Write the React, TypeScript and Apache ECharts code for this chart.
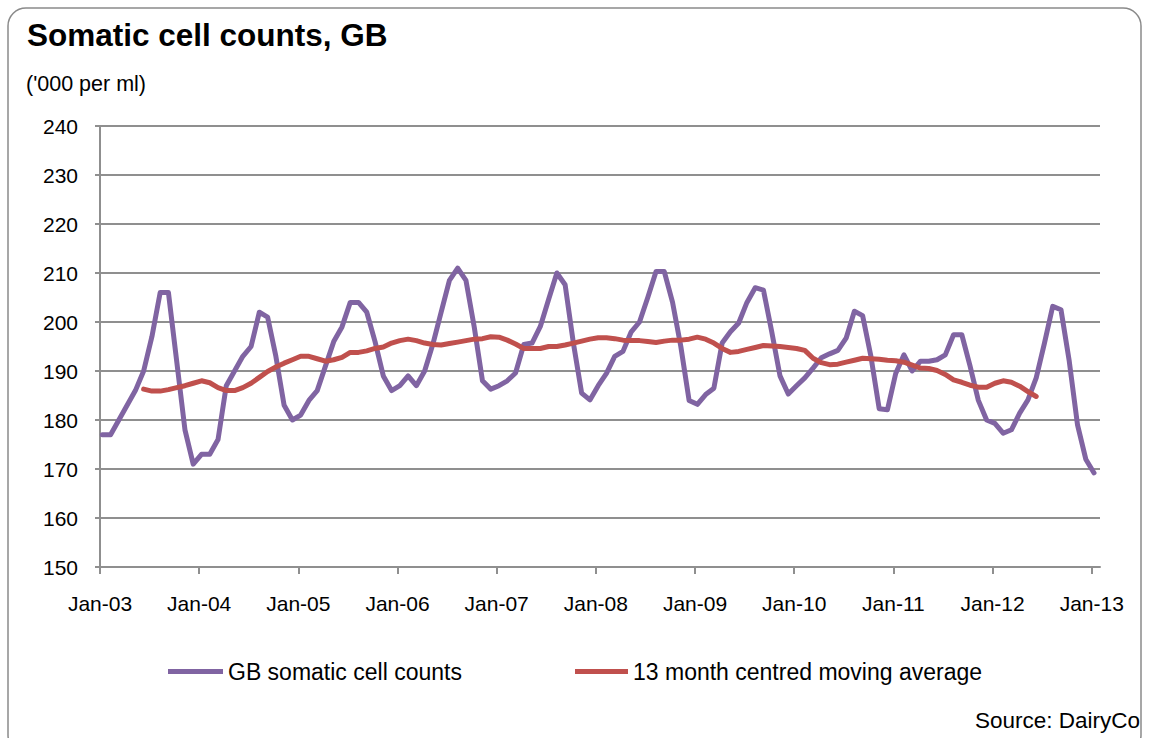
import React, { useEffect, useRef } from 'react';
import * as echarts from 'echarts';

// X tick labels (one per January)
const tickLabels = ['Jan-03', 'Jan-04', 'Jan-05', 'Jan-06', 'Jan-07', 'Jan-08', 'Jan-09', 'Jan-10', 'Jan-11', 'Jan-12', 'Jan-13'];

// GB somatic cell counts ('000 per ml), monthly Jan-03 .. Jan-13
const counts2003 = [177, 177, 180, 183, 186, 190, 197, 206, 206, 192, 178, 171];
const counts2004 = [173, 173, 176, 187, 190, 193, 195, 202, 201, 193, 183, 180];
const counts2005 = [181, 184, 186, 191, 196, 199, 204, 204, 202, 196, 189, 186];
const counts2006 = [187, 189, 187, 190, 195.5, 202, 208.5, 211, 208.5, 199, 188, 186.3];
const counts2007 = [187, 188, 189.6, 195.4, 195.7, 199.1, 204.6, 210, 207.6, 195.7, 185.5, 184.1];
const counts2008 = [187, 189.5, 193, 194, 198, 200, 205, 210.3, 210.3, 204, 195, 184];
const counts2009 = [183.2, 185.2, 186.5, 195.7, 198, 199.8, 204, 207, 206.5, 198, 189, 185.3];
const counts2010 = [187, 188.6, 190.6, 192.7, 193.5, 194.2, 196.7, 202.2, 201.3, 193, 182.3, 182.1];
const counts2011 = [189.5, 193.3, 190, 192, 192, 192.3, 193.3, 197.4, 197.4, 191, 184, 180];
const counts2012 = [179.3, 177.3, 178, 181.4, 184.1, 188.6, 195.7, 203.2, 202.5, 192, 179, 172];
const counts2013 = [169.2];

const cellCounts = [
  ...counts2003, ...counts2004, ...counts2005, ...counts2006, ...counts2007, ...counts2008,
  ...counts2009, ...counts2010, ...counts2011, ...counts2012, ...counts2013,
];

// 13 month centred moving average, starting at month index 5 (Jun-03)
const maStartIndex = 5;
const movingAverage = [
  186.3, 185.9, 185.9, 186.2, 186.6, 187, 187.5,
  188, 187.6, 186.6, 186, 186, 186.6, 187.5, 188.7, 189.9, 190.8, 191.6, 192.3,
  193, 193, 192.5, 192, 192.3, 192.8, 193.8, 193.8, 194.1, 194.6, 194.9, 195.7,
  196.2, 196.5, 196.2, 195.7, 195.4, 195.3, 195.6, 195.9, 196.2, 196.5, 196.6, 197,
  196.9, 196.3, 195.5, 194.6, 194.6, 194.6, 195, 195, 195.3, 195.7, 196.1, 196.5,
  196.8, 196.8, 196.6, 196.3, 196.2, 196.2, 196, 195.8, 196.1, 196.3, 196.3, 196.5,
  196.9, 196.5, 195.7, 194.6, 193.8, 194, 194.4, 194.8, 195.2, 195.1, 195, 194.8,
  194.6, 194.2, 192.6, 191.7, 191.3, 191.4, 191.8, 192.2, 192.6, 192.5, 192.4, 192.2,
  192.1, 191.8, 191.2, 190.6, 190.5, 190.1, 189.3, 188.2, 187.7, 187.1, 186.7, 186.7,
  187.5, 188, 187.7, 186.9, 185.8, 184.8,
];

const seriesNames = ['GB somatic cell counts', '13 month centred moving average'];
const yTicks = { min: 150, max: 240, step: 10 };

export default function App() {
  const ref = useRef<HTMLDivElement>(null);

  useEffect(() => {
    if (!ref.current) return;
    const chart = echarts.init(ref.current, null, { renderer: 'svg' });
    const font = "'Liberation Sans', Arial, sans-serif";
    const gray = '#8f8f8f';
    const monthOffset = 0.28;
    const tickValues = tickLabels.map((_, k) => k * 12);
    const countData = cellCounts.map((v, i) => [i + monthOffset, v]);
    const maData = movingAverage.map((v, i) => [i + maStartIndex + monthOffset, v]);
    const legendText = { fontSize: 23, fontFamily: font, color: '#000' };

    chart.setOption({
      animation: false,
      backgroundColor: '#ffffff',
      grid: { left: 100, right: 53, top: 126, bottom: 171, containLabel: false },
      xAxis: {
        type: 'value',
        min: 0,
        max: 121,
        axisLine: { show: true, onZero: false, lineStyle: { color: gray, width: 2 } },
        axisTick: { show: true, customValues: tickValues, length: 7, lineStyle: { color: gray, width: 2 } },
        axisLabel: {
          customValues: tickValues,
          formatter: (v: number) => tickLabels[Math.round(v / 12)] ?? '',
          margin: 26,
          fontSize: 21,
          fontFamily: font,
          color: '#000',
        },
        splitLine: { show: false },
      },
      yAxis: {
        type: 'value',
        min: yTicks.min,
        max: yTicks.max,
        interval: yTicks.step,
        axisLine: { show: true, lineStyle: { color: gray, width: 2 } },
        axisTick: { show: true, length: 5, lineStyle: { color: gray, width: 2 } },
        axisLabel: { margin: 22, fontSize: 21, fontFamily: font, color: '#000' },
        splitLine: { show: true, lineStyle: { color: gray, width: 2 } },
      },
      legend: [
        {
          data: [seriesNames[0]],
          left: 163,
          top: 655,
          icon: 'rect',
          itemWidth: 55,
          itemHeight: 5,
          textStyle: legendText,
        },
        {
          data: [seriesNames[1]],
          left: 570,
          top: 655,
          icon: 'rect',
          itemWidth: 53,
          itemHeight: 5,
          textStyle: legendText,
        },
      ],
      graphic: [
        {
          type: 'rect',
          shape: { x: 8, y: 8, width: 1133, height: 745, r: 18 },
          style: { fill: 'none', stroke: '#8a8a8a', lineWidth: 1.5 },
          silent: true,
        },
        {
          type: 'text',
          x: 27,
          y: 35,
          style: { text: 'Somatic cell counts, GB', font: `bold 31.5px ${font}`, fill: '#000', verticalAlign: 'middle' },
        },
        {
          type: 'text',
          x: 26,
          y: 84,
          style: { text: "('000 per ml)", font: `21.5px ${font}`, fill: '#000', verticalAlign: 'middle' },
        },
        {
          type: 'text',
          x: 1140,
          y: 720,
          style: { text: 'Source: DairyCo', font: `22.5px ${font}`, fill: '#000', align: 'right', verticalAlign: 'middle' },
        },
      ],
      series: [
        {
          name: seriesNames[0],
          type: 'line',
          data: countData,
          showSymbol: false,
          symbol: 'none',
          color: '#8064A2',
          lineStyle: { color: '#8064A2', width: 5, join: 'round', cap: 'round' },
          z: 2,
        },
        {
          name: seriesNames[1],
          type: 'line',
          data: maData,
          showSymbol: false,
          symbol: 'none',
          color: '#C0504D',
          lineStyle: { color: '#C0504D', width: 5, join: 'round', cap: 'round' },
          z: 3,
        },
      ],
    });
    return () => chart.dispose();
  }, []);

  return <div ref={ref} style={{ position: 'absolute', left: 0, top: 0, width: 1153, height: 738 }} />;
}
